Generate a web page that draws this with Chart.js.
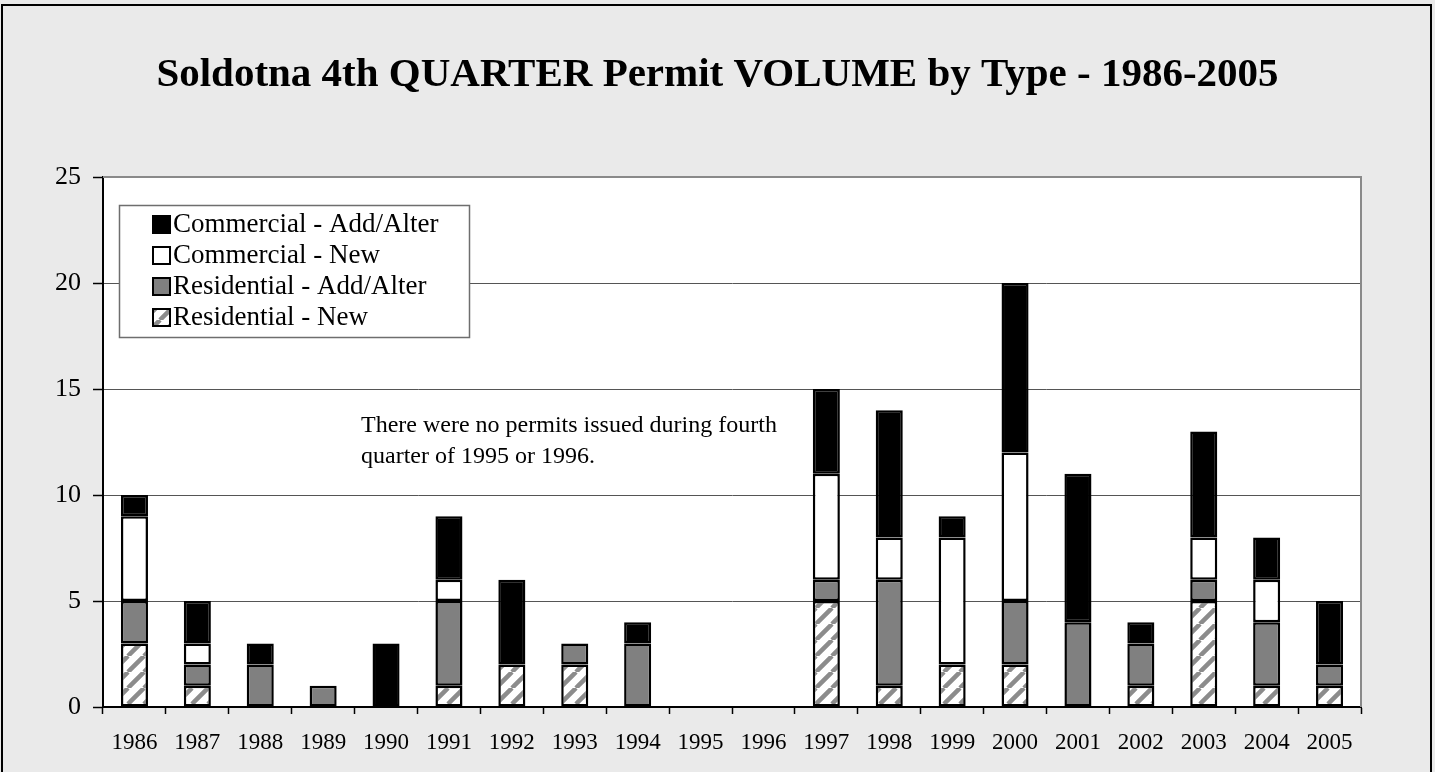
<!DOCTYPE html>
<html>
<head>
<meta charset="utf-8">
<title>Soldotna 4th Quarter Permit Volume by Type</title>
<script src="https://cdn.jsdelivr.net/npm/chart.js@4.4.1/dist/chart.umd.min.js"></script>
<style>
  html, body { margin: 0; padding: 0; background: #eaeaea; }
  canvas { display: block; }
</style>
</head>
<body>
<canvas id="permits" width="1435" height="772"></canvas>
<script>
// Fourth-quarter building permits, Soldotna, by type
const years = ['1986','1987','1988','1989','1990','1991','1992','1993','1994','1995',
               '1996','1997','1998','1999','2000','2001','2002','2003','2004','2005'];
const residentialNew   = [3,1,0,0,0,1,2,2,0,0,0,5,1,2,2,0,1,5,1,1];
const residentialAlter = [2,1,2,1,0,4,0,1,3,0,0,1,5,0,3,4,2,1,3,1];
const commercialNew    = [4,1,0,0,0,1,0,0,0,0,0,5,2,6,7,0,0,2,2,0];
const commercialAlter  = [1,2,1,0,3,3,4,0,1,0,0,4,6,1,8,7,1,5,2,3];
const yTicks = [0, 5, 10, 15, 20, 25];

const titleText = 'Soldotna 4th QUARTER Permit VOLUME by Type - 1986-2005';
const noteLines = ['There were no permits issued during fourth', 'quarter of 1995 or 1996.'];

const SERIF = "'Liberation Serif', 'Times New Roman', Times, serif";

// Diagonal hatch used for new residential permits
function makeHatch() {
  const s = 16;
  const c = document.createElement('canvas');
  c.width = s; c.height = s;
  const g = c.getContext('2d');
  g.fillStyle = '#ffffff';
  g.fillRect(0, 0, s, s);
  g.strokeStyle = '#8c8c8c';
  g.lineWidth = 4.5;
  g.beginPath();
  for (const o of [-s, 0, s]) {
    g.moveTo(o, s);
    g.lineTo(o + s, 0);
  }
  g.stroke();
  return g.createPattern(c, 'repeat');
}
const ctx = document.getElementById('permits').getContext('2d');
const hatch = makeHatch();

const barStyle = {
  borderColor: '#000000',
  borderWidth: 2.5,
  borderSkipped: false,
  barPercentage: 0.43,
  categoryPercentage: 1.0,
  stack: 'all'
};

const frame = {
  id: 'frame',
  beforeDraw(chart) {
    const { ctx, chartArea: a, width, height } = chart;
    ctx.save();
    ctx.fillStyle = '#eaeaea';
    ctx.fillRect(0, 0, width, height);
    ctx.fillStyle = '#ffffff';
    ctx.fillRect(a.left, a.top, a.right - a.left, a.bottom - a.top);
    ctx.restore();
  },
  afterDraw(chart) {
    const { ctx, chartArea: a } = chart;
    ctx.save();
    // plot area outline (top and right)
    ctx.strokeStyle = '#8a8a8a';
    ctx.lineWidth = 2;
    ctx.beginPath();
    ctx.moveTo(a.left, a.top);
    ctx.lineTo(a.right, a.top);
    ctx.lineTo(a.right, a.bottom);
    ctx.stroke();

    // title
    ctx.fillStyle = '#000';
    ctx.textAlign = 'center';
    ctx.textBaseline = 'alphabetic';
    ctx.font = 'bold 41px ' + SERIF;
    ctx.fillText(titleText, chart.width / 2, 86);

    // note
    ctx.textAlign = 'left';
    ctx.font = '24px ' + SERIF;
    ctx.fillText(noteLines[0], 361, 432);
    ctx.fillText(noteLines[1], 361, 463);

    // legend
    const lx = 119, ly = 205, lw = 350, lh = 132;
    ctx.fillStyle = '#ffffff';
    ctx.fillRect(lx, ly, lw, lh);
    ctx.strokeStyle = '#6e6e6e';
    ctx.lineWidth = 1.5;
    ctx.strokeRect(lx + 0.5, ly + 0.5, lw, lh);
    const sets = chart.data.datasets.slice().reverse();
    ctx.font = '27px ' + SERIF;
    sets.forEach((ds, i) => {
      const base = 232 + i * 31;
      ctx.fillStyle = ds.backgroundColor;
      ctx.fillRect(153, base - 16, 17, 17);
      ctx.strokeStyle = '#000';
      ctx.lineWidth = 2;
      ctx.strokeRect(153, base - 16, 17, 17);
      ctx.fillStyle = '#000';
      ctx.fillText(ds.label, 173, base);
    });

    // outer border
    ctx.strokeStyle = '#000';
    ctx.lineWidth = 2;
    ctx.strokeRect(2, 5, 1429, 780);
    ctx.restore();
  }
};

new Chart(ctx, {
  type: 'bar',
  data: {
    labels: years,
    datasets: [
      Object.assign({ label: 'Residential - New', data: residentialNew, backgroundColor: hatch }, barStyle),
      Object.assign({ label: 'Residential - Add/Alter', data: residentialAlter, backgroundColor: '#808080' }, barStyle),
      Object.assign({ label: 'Commercial - New', data: commercialNew, backgroundColor: '#ffffff' }, barStyle),
      Object.assign({ label: 'Commercial - Add/Alter', data: commercialAlter, backgroundColor: '#000000' }, barStyle)
    ]
  },
  options: {
    responsive: false,
    animation: false,
    layout: { padding: { top: 177, left: 0, right: 74, bottom: 0 } },
    plugins: {
      legend: { display: false },
      title: { display: false },
      tooltip: { enabled: false }
    },
    scales: {
      x: {
        stacked: true,
        afterFit(scale) { scale.height = 65; },
        grid: {
          offset: true,
          drawOnChartArea: false,
          drawTicks: true,
          tickLength: 7,
          tickColor: '#000',
          tickWidth: 1.5
        },
        border: { color: '#000', width: 2 },
        ticks: {
          color: '#000',
          font: { family: SERIF, size: 23 },
          padding: 15,
          maxRotation: 0,
          autoSkip: false
        }
      },
      y: {
        stacked: true,
        min: 0,
        max: 25,
        afterFit(scale) { scale.width = 103; },
        afterBuildTicks(scale) { scale.ticks = yTicks.map(v => ({ value: v })); },
        grid: {
          color: '#555555',
          lineWidth: 1,
          tickLength: 10,
          tickColor: '#000',
          tickWidth: 1.5
        },
        border: { color: '#000', width: 2 },
        ticks: {
          color: '#000',
          font: { family: SERIF, size: 26 },
          padding: 12
        }
      }
    }
  },
  plugins: [frame]
});
</script>
</body>
</html>
